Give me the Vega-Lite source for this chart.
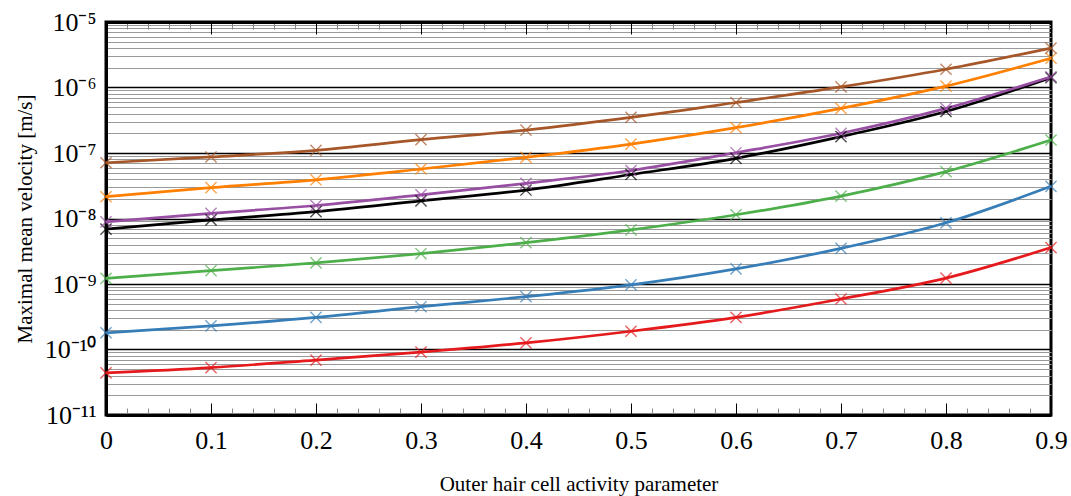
{
  "$schema": "https://vega.github.io/schema/vega-lite/v6.json",
  "width": 945,
  "height": 393,
  "autosize": "none",
  "padding": {"left": 106, "top": 22, "right": 20, "bottom": 81},
  "background": "white",
  "config": {"view": {"stroke": "black", "strokeWidth": 3}, "font": "Liberation Serif"},
  "data": {"values": [
    {"s": "red", "x": 0, "v": 4.4e-11}, {"s": "red", "x": 0.1, "v": 5.3e-11}, {"s": "red", "x": 0.2, "v": 6.9e-11}, {"s": "red", "x": 0.3, "v": 9.1e-11}, {"s": "red", "x": 0.4, "v": 1.26e-10}, {"s": "red", "x": 0.5, "v": 1.9e-10}, {"s": "red", "x": 0.6, "v": 3.1e-10}, {"s": "red", "x": 0.7, "v": 5.9e-10}, {"s": "red", "x": 0.8, "v": 1.23e-9}, {"s": "red", "x": 0.9, "v": 3.6e-9},
    {"s": "blue", "x": 0, "v": 1.8e-10}, {"s": "blue", "x": 0.1, "v": 2.3e-10}, {"s": "blue", "x": 0.2, "v": 3.1e-10}, {"s": "blue", "x": 0.3, "v": 4.5e-10}, {"s": "blue", "x": 0.4, "v": 6.4e-10}, {"s": "blue", "x": 0.5, "v": 9.7e-10}, {"s": "blue", "x": 0.6, "v": 1.7e-9}, {"s": "blue", "x": 0.7, "v": 3.5e-9}, {"s": "blue", "x": 0.8, "v": 8.6e-9}, {"s": "blue", "x": 0.9, "v": 3.1e-8},
    {"s": "green", "x": 0, "v": 1.22e-9}, {"s": "green", "x": 0.1, "v": 1.6e-9}, {"s": "green", "x": 0.2, "v": 2.1e-9}, {"s": "green", "x": 0.3, "v": 2.9e-9}, {"s": "green", "x": 0.4, "v": 4.27e-9}, {"s": "green", "x": 0.5, "v": 6.7e-9}, {"s": "green", "x": 0.6, "v": 1.14e-8}, {"s": "green", "x": 0.7, "v": 2.2e-8}, {"s": "green", "x": 0.8, "v": 5.2e-8}, {"s": "green", "x": 0.9, "v": 1.58e-7},
    {"s": "black", "x": 0, "v": 6.9e-9}, {"s": "black", "x": 0.1, "v": 9.5e-9}, {"s": "black", "x": 0.2, "v": 1.27e-8}, {"s": "black", "x": 0.3, "v": 1.86e-8}, {"s": "black", "x": 0.4, "v": 2.72e-8}, {"s": "black", "x": 0.5, "v": 4.7e-8}, {"s": "black", "x": 0.6, "v": 8.3e-8}, {"s": "black", "x": 0.7, "v": 1.78e-7}, {"s": "black", "x": 0.8, "v": 4.3e-7}, {"s": "black", "x": 0.9, "v": 1.41e-6},
    {"s": "purple", "x": 0, "v": 8.9e-9}, {"s": "purple", "x": 0.1, "v": 1.2e-8}, {"s": "purple", "x": 0.2, "v": 1.58e-8}, {"s": "purple", "x": 0.3, "v": 2.3e-8}, {"s": "purple", "x": 0.4, "v": 3.44e-8}, {"s": "purple", "x": 0.5, "v": 5.4e-8}, {"s": "purple", "x": 0.6, "v": 1.01e-7}, {"s": "purple", "x": 0.7, "v": 2.0e-7}, {"s": "purple", "x": 0.8, "v": 4.8e-7}, {"s": "purple", "x": 0.9, "v": 1.46e-6},
    {"s": "orange", "x": 0, "v": 2.15e-8}, {"s": "orange", "x": 0.1, "v": 2.96e-8}, {"s": "orange", "x": 0.2, "v": 3.9e-8}, {"s": "orange", "x": 0.3, "v": 5.7e-8}, {"s": "orange", "x": 0.4, "v": 8.6e-8}, {"s": "orange", "x": 0.5, "v": 1.37e-7}, {"s": "orange", "x": 0.6, "v": 2.44e-7}, {"s": "orange", "x": 0.7, "v": 4.8e-7}, {"s": "orange", "x": 0.8, "v": 1.05e-6}, {"s": "orange", "x": 0.9, "v": 2.8e-6},
    {"s": "brown", "x": 0, "v": 7.1e-8}, {"s": "brown", "x": 0.1, "v": 8.7e-8}, {"s": "brown", "x": 0.2, "v": 1.1e-7}, {"s": "brown", "x": 0.3, "v": 1.6e-7}, {"s": "brown", "x": 0.4, "v": 2.24e-7}, {"s": "brown", "x": 0.5, "v": 3.5e-7}, {"s": "brown", "x": 0.6, "v": 5.9e-7}, {"s": "brown", "x": 0.7, "v": 1.02e-6}, {"s": "brown", "x": 0.8, "v": 1.9e-6}, {"s": "brown", "x": 0.9, "v": 4.0e-6}
  ]},
  "layer": [
    {
      "mark": {"type": "line", "interpolate": "monotone", "strokeWidth": 2.7},
      "encoding": {
        "x": {"field": "x", "type": "quantitative",
          "scale": {"domain": [0, 0.9], "nice": false, "zero": false},
          "axis": {
            "orient": "bottom",
            "values": [0,0.02,0.04,0.06,0.08,0.1,0.12,0.14,0.16,0.18,0.2,0.22,0.24,0.26,0.28,0.3,0.32,0.34,0.36,0.38,0.4,0.42,0.44,0.46,0.48,0.5,0.52,0.54,0.56,0.58,0.6,0.62,0.64,0.66,0.68,0.7,0.72,0.74,0.76,0.78,0.8,0.82,0.84,0.86,0.88,0.9],
            "labelExpr": "abs(datum.value*10-round(datum.value*10))<0.001 ? format(datum.value,'.1~f') : ''",
            "tickSize": {"condition": {"test": "abs(datum.value*10-round(datum.value*10))<0.001", "value": -12}, "value": -7},
            "tickColor": {"condition": {"test": "abs(datum.value*10-round(datum.value*10))<0.001", "value": "black"}, "value": "#888888"},
            "tickWidth": 1,
            "grid": false,
            "domainColor": "black",
            "domainWidth": 3,
            "labelFontSize": 26,
            "labelColor": "black",
            "labelPadding": 24,
            "labelFlush": false,
            "labelOverlap": false,
            "title": "Outer hair cell activity parameter",
            "titleFontSize": 21,
            "titleFontWeight": "normal",
            "titleColor": "black",
            "titlePadding": 15
          }
        },
        "y": {"field": "v", "type": "quantitative",
          "scale": {"type": "log", "domain": [1e-11, 1e-5], "nice": false},
          "axis": {
            "orient": "left",
            "values": [1e-11,2e-11,3e-11,4e-11,5e-11,6e-11,7e-11,8e-11,9e-11,1e-10,2e-10,3e-10,4e-10,5e-10,6e-10,7e-10,8e-10,9e-10,1e-9,2e-9,3e-9,4e-9,5e-9,6e-9,7e-9,8e-9,9e-9,1e-8,2e-8,3e-8,4e-8,5e-8,6e-8,7e-8,8e-8,9e-8,1e-7,2e-7,3e-7,4e-7,5e-7,6e-7,7e-7,8e-7,9e-7,1e-6,2e-6,3e-6,4e-6,5e-6,6e-6,7e-6,8e-6,9e-6,1e-5],
            "labelExpr": "abs(log(datum.value)/LN10 - round(log(datum.value)/LN10)) < 0.01 ? '10' + (round(log(datum.value)/LN10) == -5 ? '⁻⁵' : round(log(datum.value)/LN10) == -6 ? '⁻⁶' : round(log(datum.value)/LN10) == -7 ? '⁻⁷' : round(log(datum.value)/LN10) == -8 ? '⁻⁸' : round(log(datum.value)/LN10) == -9 ? '⁻⁹' : round(log(datum.value)/LN10) == -10 ? '⁻¹⁰' : '⁻¹¹') : ''",
            "grid": true,
            "gridColor": {"condition": {"test": "abs(log(datum.value)/LN10 - round(log(datum.value)/LN10)) < 0.01", "value": "black"}, "value": "#999999"},
            "gridWidth": {"condition": {"test": "abs(log(datum.value)/LN10 - round(log(datum.value)/LN10)) < 0.01", "value": 1.3}, "value": 1},
            "ticks": false,
            "domainColor": "black",
            "domainWidth": 3,
            "labelFontSize": 26,
            "labelColor": "black",
            "labelPadding": 10,
            "labelFlush": false,
            "labelOverlap": false,
            "title": "Maximal mean velocity [m/s]",
            "titleFontSize": 21,
            "titleFontWeight": "normal",
            "titleColor": "black",
            "titlePadding": 9
          }
        },
        "color": {"field": "s", "type": "nominal", "legend": null,
          "scale": {"domain": ["red", "blue", "green", "black", "purple", "orange", "brown"],
                    "range": ["#e41a1c", "#377eb8", "#4daf4a", "#000000", "#984ea3", "#ff7f00", "#a65628"]}}
      }
    },
    {
      "mark": {"type": "point", "shape": "M-1,-1L1,1M-1,1L1,-1", "filled": false, "size": 125, "strokeWidth": 1.4, "opacity": 0.7},
      "encoding": {
        "x": {"field": "x", "type": "quantitative",
          "scale": {"domain": [0, 0.9], "nice": false, "zero": false},
          "axis": {
            "orient": "top",
            "values": [0,0.02,0.04,0.06,0.08,0.1,0.12,0.14,0.16,0.18,0.2,0.22,0.24,0.26,0.28,0.3,0.32,0.34,0.36,0.38,0.4,0.42,0.44,0.46,0.48,0.5,0.52,0.54,0.56,0.58,0.6,0.62,0.64,0.66,0.68,0.7,0.72,0.74,0.76,0.78,0.8,0.82,0.84,0.86,0.88,0.9],
            "labels": false,
            "tickSize": {"condition": {"test": "abs(datum.value*10-round(datum.value*10))<0.001", "value": -12}, "value": -7},
            "tickColor": {"condition": {"test": "abs(datum.value*10-round(datum.value*10))<0.001", "value": "black"}, "value": "#888888"},
            "tickWidth": 1,
            "grid": false,
            "domainColor": "black",
            "domainWidth": 3,
            "title": null
          }
        },
        "y": {"field": "v", "type": "quantitative",
          "scale": {"type": "log", "domain": [1e-11, 1e-5], "nice": false},
          "axis": null},
        "color": {"field": "s", "type": "nominal", "legend": null,
          "scale": {"domain": ["red", "blue", "green", "black", "purple", "orange", "brown"],
                    "range": ["#e41a1c", "#377eb8", "#4daf4a", "#000000", "#984ea3", "#ff7f00", "#a65628"]}}
      }
    }
  ],
  "resolve": {"axis": {"x": "independent", "y": "independent"}}
}
